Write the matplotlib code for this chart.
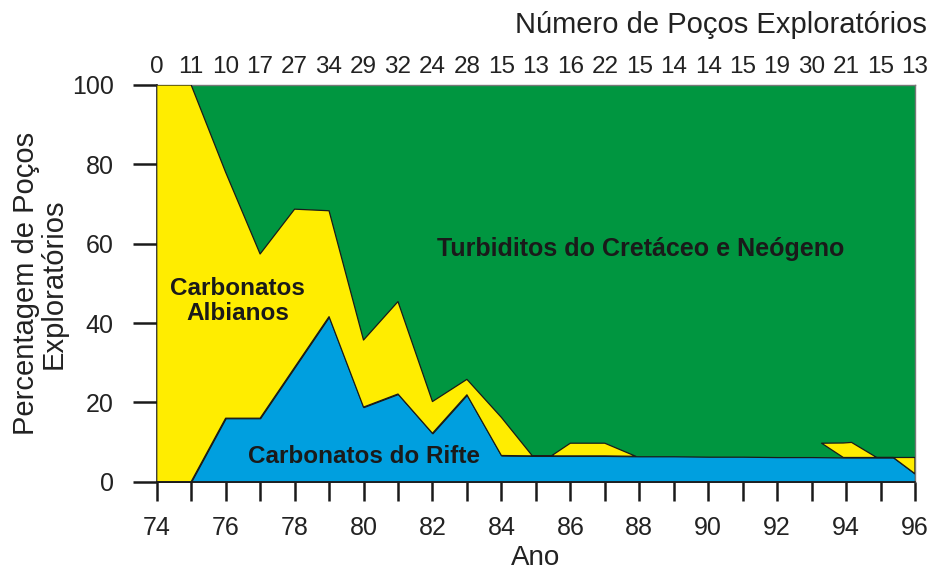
import numpy as np
import matplotlib
matplotlib.use("Agg")
import matplotlib.pyplot as plt
from matplotlib.ticker import MultipleLocator

plt.rcParams['font.family'] = ['Liberation Sans', 'DejaVu Sans']

# number of exploratory wells per year (top axis)
years = list(range(74, 97))
n_wells = [0, 11, 10, 17, 27, 34, 29, 32, 24, 28, 15, 13, 16, 22, 15, 14, 14, 15, 19, 30, 21, 15, 13]

# Carbonatos do Rifte - top of blue layer (%)
x_rift = [74, 75, 76, 77, 78, 79, 80, 81, 82, 83, 84, 85, 86, 87, 88, 89, 90, 91, 92, 93, 94, 95, 95.37, 96]
rift_top = [0, 0, 16.0, 16.0, 28.8, 41.6, 18.8, 22.1, 12.2, 21.9, 6.6, 6.5, 6.5, 6.5, 6.4, 6.4,
            6.3, 6.3, 6.2, 6.2, 6.1, 6.1, 6.1, 2.0]

# Carbonatos Albianos - yellow layer, lower and upper edge (%)
x_alb = [74, 75, 76, 77, 78, 79, 80, 81, 82, 83, 84, 84.9, 85.45, 86, 87, 87.9,
         90, 93.29, 93.92, 94.16, 94.89, 95.37, 96]
alb_low = [0, 0, 16.0, 16.0, 28.8, 41.6, 18.8, 22.1, 12.2, 21.9, 6.6, 6.5, 6.5, 6.5, 6.5, 6.4,
           np.nan, 9.7, 6.1, 6.1, 6.1, 6.1, 2.0]
alb_top = [100, 100, 78.0, 57.4, 68.7, 68.3, 35.7, 45.4, 20.2, 25.8, 16.2, 6.5, 6.5, 9.7, 9.7, 6.4,
           np.nan, 9.7, 9.75, 9.9, 6.1, 6.1, 6.1]

green = '#009640'
yellow = '#FFED00'
blue = '#009FDF'
edge = '#1a1a1a'

fig = plt.figure(figsize=(9.35, 5.72), dpi=100)
ax = fig.add_axes([0.1676, 0.1579, 0.8110, 0.6935])
ax.set_facecolor(green)

ax.fill_between(x_rift, 0, rift_top, facecolor=blue, edgecolor=edge, linewidth=0.9, zorder=2)
ax.fill_between(x_alb, alb_low, alb_top, facecolor=yellow, edgecolor=edge, linewidth=0.9, zorder=3)

ax.set_xlim(74, 96)
ax.set_ylim(0, 100)

# labels inside the areas
ax.text(88.04, 58.6, 'Turbiditos do Cretáceo e Neógeno', fontsize=18, fontweight='bold',
        color=edge, ha='center', va='center', zorder=5)
ax.text(76.34, 45.5, 'Carbonatos\nAlbianos', fontsize=17.5, fontweight='bold',
        color=edge, ha='center', va='center', linespacing=1.1, zorder=5)
ax.text(80.0, 6.4, 'Carbonatos do Rifte', fontsize=17.5, fontweight='bold',
        color=edge, ha='center', va='center', zorder=5)

# bottom / left axes
ax.xaxis.set_major_locator(MultipleLocator(2))
ax.xaxis.set_minor_locator(MultipleLocator(1))
ax.set_yticks([0, 20, 40, 60, 80, 100])
ax.tick_params(axis='x', which='both', length=14, width=1.8, pad=11, labelsize=18, color='#1a1a1a')
ax.tick_params(axis='y', length=17, width=1.8, pad=14, labelsize=18, color='#1a1a1a')
ax.tick_params(labelcolor='#222222')

for s in ['left', 'bottom']:
    ax.spines[s].set_color('#1a1a1a')
    ax.spines[s].set_linewidth(1.2)
for s in ['top', 'right']:
    ax.spines[s].set_color('#777777')
    ax.spines[s].set_linewidth(1.0)

ax.set_xlabel('Ano', fontsize=20, color='#222222', labelpad=3)
ax.set_ylabel('Percentagem de Poços\nExploratórios', fontsize=21, color='#222222',
              linespacing=1.0, labelpad=3)

# top axis with well counts
ax2 = ax.twiny()
ax2.set_xlim(ax.get_xlim())
ax2.set_xticks(years)
ax2.set_xticklabels([str(n) for n in n_wells])
ax2.tick_params(axis='x', length=0, pad=5, labelsize=17.5, labelcolor='#222222')
for s in ax2.spines.values():
    s.set_visible(False)

fig.text(927 / 935, 1 - 33 / 572, 'Número de Poços Exploratórios', fontsize=21,
         color='#222222', ha='right', va='baseline')

fig.savefig('out.png', dpi=100)
